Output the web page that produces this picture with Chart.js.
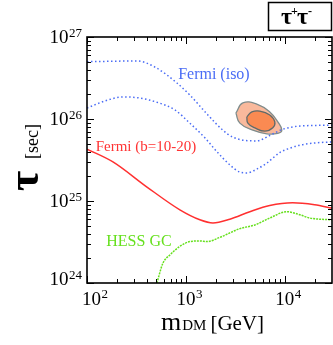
<!DOCTYPE html>
<html>
<head>
<meta charset="utf-8">
<script src="https://cdn.jsdelivr.net/npm/chart.js@4.4.0/dist/chart.umd.min.js"></script>
<style>
body { margin: 0; background: #fff; }
#wrap { width: 333px; height: 345px; position: relative; }
</style>
</head>
<body>
<div id="wrap"><canvas id="chart"></canvas></div>
<script>
// DM mass (GeV) and lifetime bound (sec)
const isoUpperMass = [100, 320, 486, 811, 1096, 1667, 2366, 2985, 5208, 7040, 9550, 14190, 30000];
const isoUpperTau = [5.0e26, 5.1e26, 4.3e26, 2.75e26, 1.96e26, 1.12e26, 7.3e25, 6.0e25, 5.4e25, 6.3e25, 7.5e25, 8.2e25, 8.4e25];

const isoLowerMass = [100, 152, 231, 343, 509, 774, 1096, 1555, 2055, 2780, 3510, 4130, 5210, 6580, 8900, 11220, 14190, 20000, 30000];
const isoLowerTau = [1.36e26, 1.66e26, 1.86e26, 1.8e26, 1.6e26, 1.29e26, 8.9e25, 5.9e25, 4.0e25, 2.76e25, 2.25e25, 2.2e25, 2.45e25, 2.9e25, 3.9e25, 4.4e25, 4.8e25, 5.1e25, 5.25e25];

const fermiBMass = [100, 183, 404, 869, 1384, 1875, 2780, 4430, 7040, 12000, 20000, 30000];
const fermiBTau = [4.3e25, 3.0e25, 1.48e25, 7.8e24, 5.9e24, 5.4e24, 6.0e24, 7.4e24, 8.8e24, 9.5e24, 9.0e24, 8.2e24];

const hessMass = [509, 586, 689, 869, 1096, 1384, 1630, 2200, 3510, 4970, 7040, 10500, 14190, 17860, 30000];
const hessTau = [1.0e24, 1.75e24, 2.2e24, 2.8e24, 3.2e24, 3.26e24, 3.2e24, 3.6e24, 4.6e24, 5.1e24, 6.2e24, 7.4e24, 6.8e24, 6.2e24, 5.9e24];

// best-fit region contours (outer and inner)
const outerMass = [3200, 3765, 5210, 7050, 8500, 9330, 8500, 6580, 4750, 3510, 3200];
const outerTau = [1.18e26, 1.57e26, 1.52e26, 1.22e26, 9.2e25, 7.3e25, 6.7e25, 6.6e25, 7.3e25, 8.9e25, 1.18e26];
const innerMass = [4130, 4640, 5590, 7050, 7920, 7560, 6280, 4980, 4230, 4130];
const innerTau = [1.06e26, 1.22e26, 1.25e26, 1.12e26, 9.2e25, 7.8e25, 7.1e25, 7.8e25, 8.9e25, 1.06e26];

// axes
const xMin = 100, xMax = 30000;
const yMin = 1e24, yMax = 1e27;
const xTickExp = [2, 3, 4];
const yTickExp = [24, 25, 26, 27];

// curve labels: text, mass, tau, colour, font size
const curveLabels = [
    ['Fermi (iso)', 1920, 3.1e26, '#4a6cf5', 16],
    ['Fermi (b=10-20)', 394, 4.1e25, '#ff3333', 15],
    ['HESS GC', 335, 2.8e24, '#66e01e', 16]
];

function pts(xs, ys) {
    return xs.map((x, i) => ({ x: x, y: ys[i] }));
}

function minorValues(min, max) {
    const out = [];
    for (let d = Math.floor(Math.log10(min)); d <= Math.ceil(Math.log10(max)); d++) {
        for (let k = 2; k <= 9; k++) {
            const v = k * Math.pow(10, d);
            if (v > min && v < max) out.push(v);
        }
    }
    return out;
}

const frameAndLabels = {
    id: 'frameAndLabels',
    afterDraw(chart) {
        const ctx = chart.ctx;
        const a = chart.chartArea;
        const xs = chart.scales.x, ys = chart.scales.y;
        ctx.save();
        ctx.strokeStyle = '#000';

        // ticks
        ctx.lineWidth = 1;
        const tick = (v, len, isX) => {
            ctx.beginPath();
            if (isX) {
                const p = Math.round(xs.getPixelForValue(v)) + 0.5;
                ctx.moveTo(p, a.bottom); ctx.lineTo(p, a.bottom - len);
                ctx.moveTo(p, a.top); ctx.lineTo(p, a.top + len);
            } else {
                const p = Math.round(ys.getPixelForValue(v)) + 0.5;
                ctx.moveTo(a.left, p); ctx.lineTo(a.left + len, p);
                ctx.moveTo(a.right, p); ctx.lineTo(a.right - len, p);
            }
            ctx.stroke();
        };
        minorValues(xMin, xMax).forEach(v => tick(v, 4, true));
        xTickExp.forEach(e => tick(Math.pow(10, e), 7, true));
        minorValues(yMin, yMax).forEach(v => tick(v, 4, false));
        yTickExp.forEach(e => tick(Math.pow(10, e), 7, false));

        // frame
        ctx.lineWidth = 1.6;
        ctx.strokeRect(a.left, a.top, a.right - a.left, a.bottom - a.top);

        const serif = '"Liberation Serif", "DejaVu Serif", serif';
        ctx.fillStyle = '#000';
        ctx.textBaseline = 'alphabetic';

        // x tick labels
        xTickExp.forEach(e => {
            const p = xs.getPixelForValue(Math.pow(10, e));
            ctx.font = '19px ' + serif;
            const w = ctx.measureText('10').width;
            let left = Math.max(p - w / 2, a.left - 5);
            ctx.textAlign = 'left';
            ctx.fillText('10', left, 305);
            ctx.font = '13px ' + serif;
            ctx.fillText(String(e), left + w + 0.5, 298);
        });

        // y tick labels
        yTickExp.forEach(e => {
            const p = ys.getPixelForValue(Math.pow(10, e));
            const base = Math.min(Math.max(p + 6, 38), 285);
            ctx.font = '13px ' + serif;
            const ew = ctx.measureText(String(e)).width;
            ctx.textAlign = 'left';
            ctx.fillText(String(e), 82 - ew, base - 6);
            ctx.font = '19px ' + serif;
            const w = ctx.measureText('10').width;
            ctx.fillText('10', 82 - ew - w - 0.5, base);
        });

        // curve labels
        ctx.textAlign = 'center';
        curveLabels.forEach(l => {
            ctx.font = l[4] + 'px ' + serif;
            ctx.fillStyle = l[3];
            ctx.fillText(l[0], xs.getPixelForValue(l[1]), ys.getPixelForValue(l[2]));
        });

        // y title
        ctx.fillStyle = '#000';
        ctx.save();
        ctx.translate(38, 191);
        ctx.rotate(-Math.PI / 2);
        ctx.textAlign = 'left';
        ctx.font = 'bold 44px ' + serif;
        ctx.fillText('τ', 0, 0);
        ctx.font = '18px ' + serif;
        ctx.fillText('[sec]', 32, 0);
        ctx.restore();

        // x title
        ctx.textAlign = 'left';
        let cx = 161;
        ctx.font = '26px ' + serif;
        ctx.fillText('m', cx, 330);
        cx += ctx.measureText('m').width + 1;
        ctx.font = '15px ' + serif;
        ctx.fillText('DM', cx, 330);
        cx += ctx.measureText('DM').width + 4;
        ctx.font = '21px ' + serif;
        ctx.fillText('[GeV]', cx, 330);

        // channel box
        ctx.lineWidth = 1.5;
        ctx.strokeRect(268.5, 2.5, 63, 28);
        ctx.font = 'bold 24px ' + serif;
        let bx = 281;
        ctx.fillText('τ', bx, 24);
        bx += ctx.measureText('τ').width;
        ctx.font = 'bold 12px ' + serif;
        ctx.fillText('+', bx - 1, 15);
        bx += ctx.measureText('+').width - 2;
        ctx.font = 'bold 24px ' + serif;
        ctx.fillText('τ', bx, 24);
        bx += ctx.measureText('τ').width;
        ctx.font = 'bold 12px ' + serif;
        ctx.fillText('-', bx, 15);

        ctx.restore();
    }
};

const ctx = document.getElementById('chart').getContext('2d');
new Chart(ctx, {
    type: 'scatter',
    data: {
        datasets: [
            {
                label: 'Fermi (iso) upper',
                data: pts(isoUpperMass, isoUpperTau),
                showLine: true,
                borderColor: '#4a6cf5',
                borderWidth: 1.5,
                borderDash: [1.5, 2.5],
                pointRadius: 0,
                cubicInterpolationMode: 'monotone'
            },
            {
                label: 'Fermi (iso) lower',
                data: pts(isoLowerMass, isoLowerTau),
                showLine: true,
                borderColor: '#4a6cf5',
                borderWidth: 1.5,
                borderDash: [1.5, 2.5],
                pointRadius: 0,
                cubicInterpolationMode: 'monotone'
            },
            {
                label: 'Fermi (b=10-20)',
                data: pts(fermiBMass, fermiBTau),
                showLine: true,
                borderColor: '#ff3030',
                borderWidth: 1.5,
                pointRadius: 0,
                cubicInterpolationMode: 'monotone'
            },
            {
                label: 'HESS GC',
                data: pts(hessMass, hessTau),
                showLine: true,
                borderColor: '#66e01e',
                borderWidth: 1.5,
                borderDash: [2, 1],
                pointRadius: 0,
                cubicInterpolationMode: 'monotone'
            },
            {
                label: 'inner',
                data: pts(innerMass, innerTau),
                showLine: true,
                borderColor: '#5f6b6b',
                backgroundColor: '#fa8a52',
                borderWidth: 1.3,
                fill: 'shape',
                pointRadius: 0,
                tension: 0.45
            },
            {
                label: 'outer',
                data: pts(outerMass, outerTau),
                showLine: true,
                borderColor: '#7f8d8d',
                backgroundColor: '#f9b99c',
                borderWidth: 1.3,
                fill: 'shape',
                pointRadius: 0,
                tension: 0.45
            }
        ]
    },
    options: {
        responsive: true,
        maintainAspectRatio: false,
        animation: false,
        layout: { padding: { left: 87, top: 37, right: 1, bottom: 62 } },
        scales: {
            x: { type: 'logarithmic', min: xMin, max: xMax, display: false },
            y: { type: 'logarithmic', min: yMin, max: yMax, display: false }
        },
        plugins: {
            legend: { display: false },
            tooltip: { enabled: false }
        }
    },
    plugins: [frameAndLabels]
});
</script>
</body>
</html>
